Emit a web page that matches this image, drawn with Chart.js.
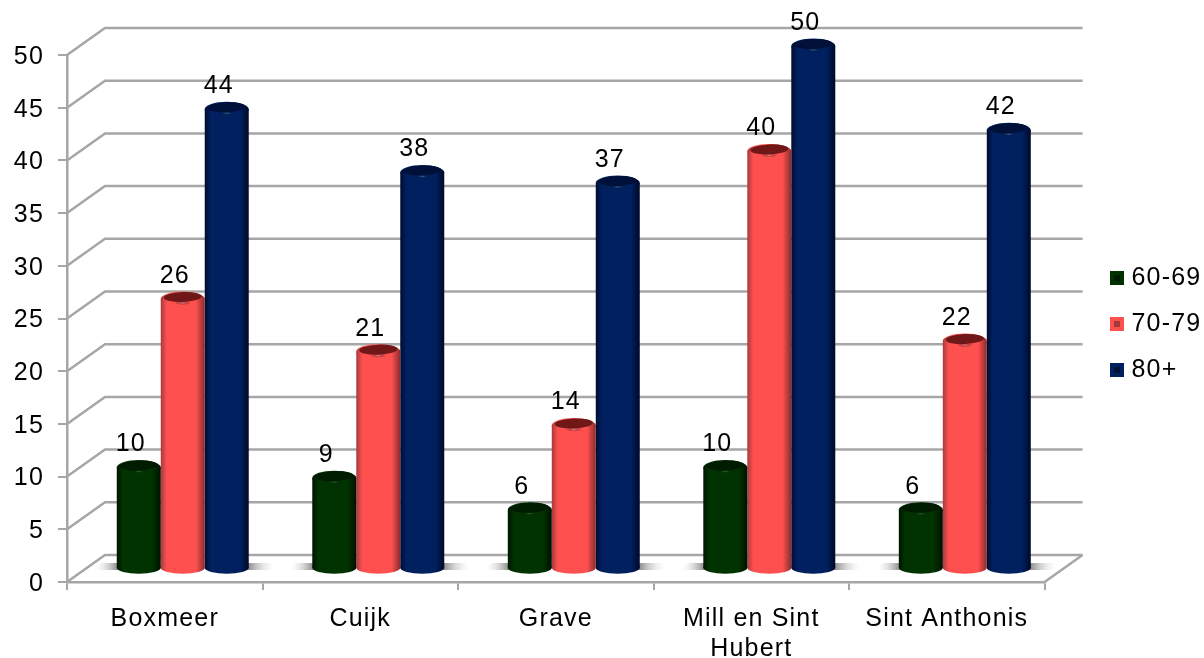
<!DOCTYPE html>
<html><head><meta charset="utf-8">
<style>html,body{margin:0;padding:0;background:#fff}canvas{display:block}</style>
<script src="https://cdn.jsdelivr.net/npm/chart.js@4"></script>
</head><body><canvas id="c" width="1204" height="658"></canvas>
<script>
const categories = ['Boxmeer','Cuijk','Grave',['Mill en Sint','Hubert'],'Sint Anthonis'];
const seriesNames = ['60-69','70-79','80+'];
const values6069 = [10,9,6,10,6];
const values7079 = [26,21,14,40,22];
const values80 = [44,38,37,50,42];
const yTicks = [0,5,10,15,20,25,30,35,40,45,50];

const FONT = '"Liberation Sans", Arial, sans-serif';
const GRID = '#a6a6a6';
const TRACK = '1.2px';
const BAR_SHIFT = {x:18, y:-9};
const WALL_SHIFT = {x:38, y:-27};
const CAT_PCT = 0.675;
const palette = [
  {edgeL:'#001400', mid:'#003300', edgeR:'#001000', cap:'#001c00', hi:'#2c6a2c', inner:'#001c00'},
  {edgeL:'#a83a3a', mid:'#ff5050', edgeR:'#8a2c2c', cap:'#701818', hi:'#ff8080', inner:'#a83838'},
  {edgeL:'#000c30', mid:'#002060', edgeR:'#000828', cap:'#001038', hi:'#3060a8', inner:'#001038'}
];
function marker(p){
  const m=document.createElement('canvas'); m.width=14; m.height=14;
  const g=m.getContext('2d');
  g.fillStyle=p.mid; g.fillRect(0,0,14,14);
  g.fillStyle=p.inner; g.fillRect(4,4,6,6);
  return m;
}
const markers = palette.map(marker);

function barGradient(ctx, left, width, p){
  const g = ctx.createLinearGradient(left,0,left+width,0);
  g.addColorStop(0,p.edgeL); g.addColorStop(0.14,p.mid);
  g.addColorStop(0.8,p.mid); g.addColorStop(1,p.edgeR);
  return g;
}
function fillFor(context){
  const p = palette[context.datasetIndex];
  const chart = context.chart;
  if (context.dataIndex===undefined || !chart.chartArea) return p.mid;
  const x = chart.scales.x;
  const cw = (x.right-x.left)/categories.length;
  const w = cw*CAT_PCT/3;
  const left = x.getPixelForValue(context.dataIndex)-1.5*w+context.datasetIndex*w;
  return barGradient(chart.ctx,left,w,p);
}

const scene = {
  id:'scene',
  beforeLayout(chart){ chart.ctx.letterSpacing=TRACK; },
  beforeDraw(chart){
    chart.ctx.letterSpacing=TRACK;
    const l=chart.legend;
    const w=l.right-l.left, h=l.bottom-l.top;
    l.left=1094; l.right=l.left+w;
    l.top=324-h/2; l.bottom=l.top+h;
  },
  beforeDatasetsDraw(chart){
    const c=chart.ctx, y=chart.scales.y, x=chart.scales.x, a=chart.chartArea;
    c.save();
    c.strokeStyle=GRID; c.lineWidth=2.5;
    yTicks.forEach(v=>{
      const py=y.getPixelForValue(v);
      c.beginPath();
      c.moveTo(a.left,py);
      c.lineTo(a.left+WALL_SHIFT.x,py+WALL_SHIFT.y);
      c.lineTo(a.right+WALL_SHIFT.x,py+WALL_SHIFT.y);
      c.stroke();
    });
    const p0=y.getPixelForValue(0);
    c.beginPath();
    c.moveTo(a.right,p0);
    c.lineTo(a.right+WALL_SHIFT.x,p0+WALL_SHIFT.y);
    c.stroke();
    // floor shadows beside every group
    const cw=(x.right-x.left)/categories.length, bw=cw*CAT_PCT/3;
    categories.forEach((_,i)=>{
      const cx=x.getPixelForValue(i)+BAR_SHIFT.x;
      const yc=p0+BAR_SHIFT.y-6;
      const rx=cx+1.5*bw, lx=cx-1.5*bw;
      let g=c.createLinearGradient(rx-2,0,rx+28,0);
      g.addColorStop(0,'#808080'); g.addColorStop(1,'rgba(255,255,255,0)');
      c.fillStyle=g;
      c.beginPath(); c.moveTo(rx-2,yc-4); c.lineTo(rx+30,yc-4); c.lineTo(rx+22,yc+3); c.lineTo(rx-2,yc+3); c.fill();
      g=c.createLinearGradient(lx+2,0,lx-24,0);
      g.addColorStop(0,'#808080'); g.addColorStop(1,'rgba(255,255,255,0)');
      c.fillStyle=g;
      c.beginPath(); c.moveTo(lx+2,yc-4); c.lineTo(lx-16,yc-4); c.lineTo(lx-24,yc+3); c.lineTo(lx+2,yc+3); c.fill();
    });
    c.restore();
    c.save();
    c.translate(BAR_SHIFT.x,BAR_SHIFT.y);
  },
  afterDatasetDraw(chart,args){
    const c=chart.ctx, p=palette[args.index];
    chart.getDatasetMeta(args.index).data.forEach(el=>{
      const rx=el.width/2, left=el.x-rx;
      const g=barGradient(c,left,el.width,p);
      c.fillStyle=g;
      // rounded foot of the cylinder
      c.beginPath(); c.ellipse(el.x,el.base,rx,6,0,0,Math.PI*2); c.fill();
      // shoulder and dark top face
      c.beginPath(); c.ellipse(el.x,el.y,rx,7.5,0,0,Math.PI*2); c.fill();
      c.fillStyle=p.cap;
      c.beginPath(); c.ellipse(el.x,el.y-2,rx-3,5,-0.04,0,Math.PI*2); c.fill();
      const h=c.createRadialGradient(el.x,el.y+4,0,el.x,el.y+4,8);
      h.addColorStop(0,p.hi); h.addColorStop(1,'rgba(0,0,0,0)');
      c.save(); c.translate(0,(el.y+4)*0.75); c.scale(1,0.25);
      c.fillStyle=h; c.beginPath(); c.arc(el.x,el.y+4,8,0,Math.PI*2); c.fill();
      c.restore();
    });
  },
  afterDatasetsDraw(chart){
    const c=chart.ctx;
    c.font='25px '+FONT; c.fillStyle='#000'; c.textAlign='center'; c.textBaseline='middle';
    chart.data.datasets.forEach((d,i)=>{
      chart.getDatasetMeta(i).data.forEach((el,j)=>{
        c.fillText(String(d.data[j]),el.x-8,el.y-23);
      });
    });
    c.restore();
  }
};

new Chart(document.getElementById('c'),{
  type:'bar',
  plugins:[scene],
  data:{
    labels:categories,
    datasets:[values6069,values7079,values80].map((data,i)=>({
      label:seriesNames[i], data,
      base:0.5, clip:false,
      backgroundColor:fillFor, borderWidth:0,
      categoryPercentage:CAT_PCT, barPercentage:1
    }))
  },
  options:{
    responsive:false, animation:false,
    layout:{padding:{top:55,right:42,left:0,bottom:0}},
    plugins:{
      tooltip:{enabled:false},
      title:{display:false},
      legend:{
        position:'right',
        labels:{
          font:{family:FONT,size:25}, color:'#000',
          usePointStyle:true, boxWidth:4, boxHeight:14, padding:21,
          generateLabels:(chart)=>chart.data.datasets.map((d,i)=>({
            text:d.label, datasetIndex:i, pointStyle:markers[i],
            fontColor:'#000', fillStyle:palette[i].mid, strokeStyle:palette[i].mid, lineWidth:0, hidden:false
          }))
        }
      }
    },
    scales:{
      x:{
        grid:{drawOnChartArea:false,drawTicks:true,color:GRID,tickColor:GRID,tickLength:8,lineWidth:2},
        border:{color:GRID,width:2.5},
        ticks:{font:{family:FONT,size:25,lineHeight:1.2},color:'#000',maxRotation:0,autoSkip:false,padding:14},
        afterFit(s){s.height=76;}
      },
      y:{
        min:0,max:50,
        afterBuildTicks(s){s.ticks=yTicks.map(v=>({value:v}));},
        grid:{drawOnChartArea:false,drawTicks:true,color:GRID,tickColor:GRID,tickLength:9,lineWidth:2},
        border:{color:GRID,width:2.5},
        ticks:{font:{family:FONT,size:25},color:'#000',padding:14,labelOffset:2},
        afterFit(s){s.width=67;}
      }
    }
  }
});
</script></body></html>
